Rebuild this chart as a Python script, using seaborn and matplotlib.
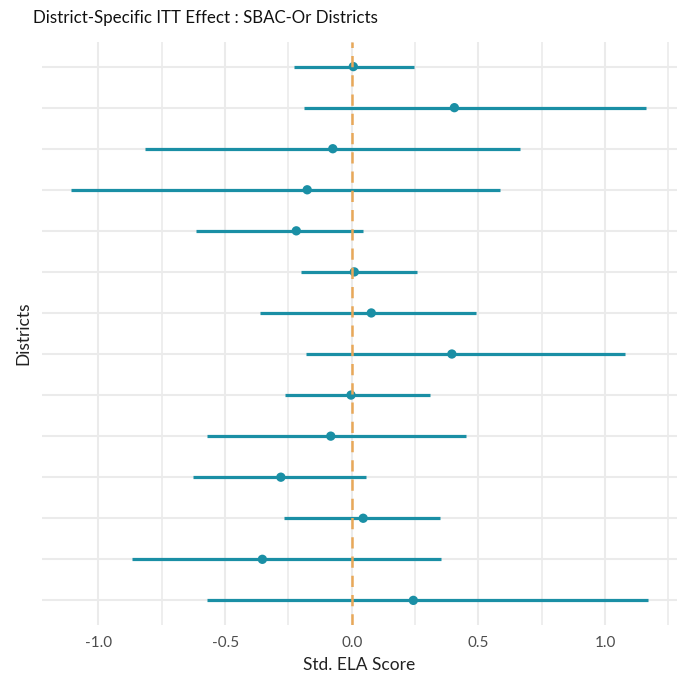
import matplotlib
matplotlib.use("Agg")
import matplotlib.pyplot as plt
import seaborn as sns
import pandas as pd
from matplotlib.ticker import MultipleLocator

# District-level ITT estimates with confidence bounds (top row first)
districts = [f"District {i}" for i in range(1, 15)]
estimate = [0.006, 0.405, -0.075, -0.176, -0.219, 0.010, 0.077,
            0.395, -0.003, -0.083, -0.280, 0.045, -0.353, 0.243]
lower = [-0.227, -0.189, -0.815, -1.109, -0.614, -0.200, -0.363,
         -0.182, -0.264, -0.572, -0.628, -0.267, -0.869, -0.572]
upper = [0.247, 1.162, 0.664, 0.584, 0.046, 0.257, 0.489,
         1.079, 0.308, 0.449, 0.055, 0.347, 0.353, 1.169]
x_ticks = [-1.0, -0.5, 0.0, 0.5, 1.0]
x_tick_labels = ["-1.0", "-0.5", "0.0", "0.5", "1.0"]

df = pd.DataFrame({"district": districts, "estimate": estimate,
                   "lower": lower, "upper": upper})

sns.set_theme(style="white")
plt.rcParams["font.family"] = ["Lato", "DejaVu Sans"]

teal = "#1a8fa5"
orange = "#e8a859"
grid = "#ebebeb"

fig = plt.figure(figsize=(6.85, 6.77), dpi=100)
ax = fig.add_axes([0.0613, 0.0768, 0.9267, 0.8612])

# Confidence intervals
ax.hlines(df["district"], df["lower"], df["upper"], color=teal,
          linewidth=2.3, zorder=3)
# Point estimates
sns.scatterplot(data=df, x="estimate", y="district", ax=ax, color=teal,
                s=45, edgecolor="none", zorder=4, legend=False)
# Reference line at zero
ax.axvline(0, color=orange, linewidth=1.8, linestyle=(0, (4.5, 3.2)),
           zorder=5)

lo, hi = min(lower), max(upper)
pad = 0.05 * (hi - lo)
ax.set_xlim(lo - pad, hi + pad)
ax.set_ylim(len(districts) - 0.4, -0.6)

ax.xaxis.set_major_locator(MultipleLocator(0.5))
ax.xaxis.set_minor_locator(MultipleLocator(0.25))
ax.set_xticks(x_ticks)
ax.set_xticklabels(x_tick_labels)
ax.grid(True, which="major", axis="both", color=grid, linewidth=1.5, zorder=0)
ax.grid(True, which="minor", axis="x", color=grid, linewidth=1.2, zorder=0)
ax.set_axisbelow(True)
ax.set_yticklabels([])
ax.tick_params(axis="both", which="both", length=0)
ax.tick_params(axis="x", labelsize=11, labelcolor="#4d4d4d", pad=8)
for s in ax.spines.values():
    s.set_visible(False)

ax.set_xlabel("Std. ELA Score", fontsize=12.5, color="#222222", labelpad=5)
ax.set_ylabel("Districts", fontsize=12.5, color="#222222", labelpad=4)
fig.text(0.048, 0.973, "District-Specific ITT Effect : SBAC-Or Districts",
         fontsize=12.2, color="#111111", ha="left", va="center")

fig.savefig("out.png", dpi=100)
